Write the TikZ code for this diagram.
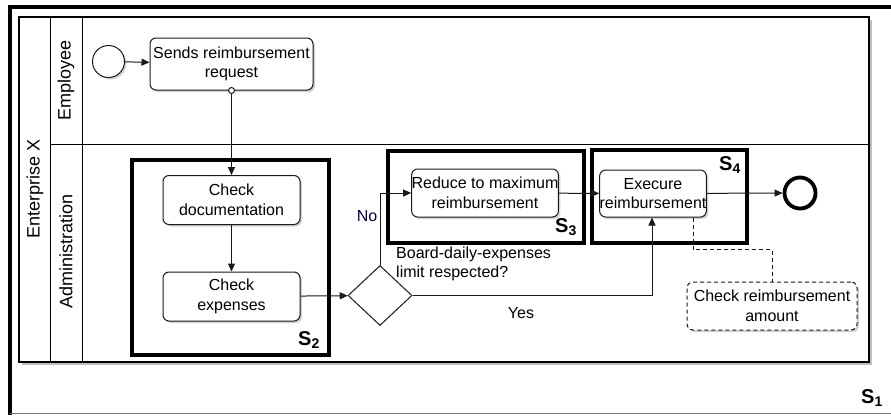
\documentclass[tikz,border=0pt]{standalone}
\usepackage{fontspec}
\setmainfont{Liberation Sans}
\usetikzlibrary{arrows.meta,shapes.geometric,shadows}
\begin{document}
\begin{tikzpicture}[x=1pt,y=-1pt,
  lbl/.style={font=\fontsize{16}{19}\selectfont, inner sep=0pt},
  lane/.style={font=\fontsize{18}{20}\selectfont, inner sep=0pt, rotate=90},
  task/.style={draw=black!90, line width=1pt, rounded corners=6pt, fill=white, align=center,
    font=\fontsize{16}{19.5}\selectfont, inner sep=0pt,
    drop shadow={shadow xshift=2pt, shadow yshift=-2pt, opacity=0.35}},
  sbox/.style={draw=black, line width=4pt, inner sep=0pt},
  slabel/.style={font=\fontsize{20}{20}\selectfont\bfseries, inner sep=0pt},
  flow/.style={draw=black!90, line width=1pt, -{Triangle[length=8pt,width=7pt]}},
  assoc/.style={draw=black!90, line width=1pt, dashed, dash pattern=on 4pt off 3pt},
]
\useasboundingbox (0,0) rectangle (891,415);
% outer S1 frame
\draw[line width=4pt] (10,415) -- (10,7) -- (891,7);
\draw[black!55, line width=1pt] (10,413.5) -- (891,413.5);
\node[slabel] (s1) at (872,398) {S\textsubscript{1}};

% pool
\node[draw=black, line width=1.2pt, fill=white, minimum width=850pt, minimum height=345pt, inner sep=0pt,
  drop shadow={shadow xshift=3pt, shadow yshift=-3pt, opacity=0.5}] (pool) at (444,189.5) {};
\draw[line width=1pt] (50.5,17) -- (50.5,362);
\draw[line width=1pt] (82.7,17) -- (82.7,362);
\draw[line width=1pt] (50.5,144) -- (869,144);
\node[lane] (ent) at (35,189) {Enterprise X};
\node[lane] (emp) at (66,80) {Employee};
\node[lane] (adm) at (66,251) {Administration};

% S boxes
\node[sbox, minimum width=197pt, minimum height=195pt] (s2box) at (230.5,257.5) {};
\node[sbox, minimum width=196pt, minimum height=92pt] (s3box) at (486,197) {};
\node[sbox, minimum width=155pt, minimum height=93pt] (s4box) at (669.5,196.5) {};
\node[slabel] (s2) at (309,340) {S\textsubscript{2}};
\node[slabel] (s3) at (566,227) {S\textsubscript{3}};
\node[slabel] (s4) at (730,165) {S\textsubscript{4}};

% events
\node[circle, draw=black!90, line width=1pt, fill=white, minimum size=32pt, inner sep=0pt,
  drop shadow={shadow xshift=2pt, shadow yshift=-2pt, opacity=0.35}] (start) at (108.5,61.5) {};
\node[circle, draw=black, line width=3.8pt, fill=white, minimum size=31pt, inner sep=0pt,
  drop shadow={shadow xshift=2pt, shadow yshift=-2pt, opacity=0.35}] (end) at (800,193) {};

% tasks
\node[task, minimum width=163pt, minimum height=52pt] (sends) at (231.5,64) {Sends reimbursement\\request};
\node[task, minimum width=137pt, minimum height=49pt] (chdoc) at (231.5,200) {Check\\documentation};
\node[task, minimum width=137pt, minimum height=49pt] (chexp) at (231.5,296.5) {Check\\expenses};
\node[task, minimum width=146pt, minimum height=48pt] (reduce) at (485,193) {Reduce to maximum\\reimbursement};
\node[task, minimum width=106pt, minimum height=47pt] (exec) at (653,193.5) {Execure\\reimbursement};
\node[task, dashed, dash pattern=on 4pt off 3pt, minimum width=170pt, minimum height=48pt] (amt) at (772,306) {Check reimbursement\\amount};

% gateway
\node[diamond, draw=black!90, line width=1pt, fill=white, minimum width=64pt, minimum height=60pt, inner sep=0pt] (gw) at (380,295.5) {};

% labels
\node[lbl, text=blue!30!black] (no) at (367,216) {No};
\node[lbl, align=left, anchor=west] (cond) at (396,264) {Board-daily-expenses\\limit respected?};
\node[lbl] (yes) at (521,313) {Yes};

% flows
\draw[flow] (start) -- (sends);
\draw[flow] (sends.south) -- (chdoc.north);
\node[circle, draw=black!90, line width=1pt, fill=white, minimum size=6pt, inner sep=0pt] (sc) at (sends.south) {};
\draw[flow] (chdoc) -- (chexp);
\draw[flow] (chexp) -- (gw);
\draw[flow] (gw.north) |- (reduce.west);
\draw[flow] (gw.east) -| ([xshift=-1pt]exec.south);
\draw[flow] (reduce) -- (exec);
\draw[flow] (exec) -- (end);
\coordinate (a1) at ([xshift=40pt]exec.south);
\draw[assoc] (a1) -- ++(0,32) -| (amt.north);
\end{tikzpicture}
\end{document}
